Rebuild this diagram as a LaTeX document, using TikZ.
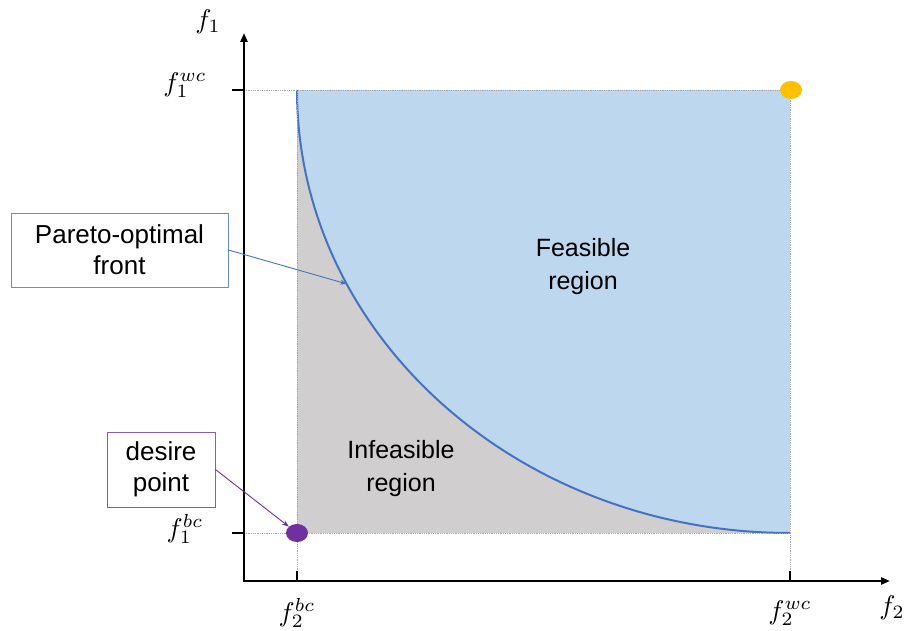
\documentclass[tikz,border=0pt]{standalone}
\usepackage{fontspec}
\setmainfont{Liberation Sans}
\usetikzlibrary{shapes.geometric,arrows.meta}

\definecolor{feasblue}{RGB}{189,215,238}
\definecolor{infgray}{RGB}{208,206,206}
\definecolor{frontblue}{RGB}{68,114,196}
\definecolor{bestpurple}{RGB}{112,48,160}
\definecolor{worstyellow}{RGB}{255,192,0}

\begin{document}
\begin{tikzpicture}[x=1pt, y=1pt,
  axisline/.style={line width=2.4, draw=black, -{Triangle[length=9,width=7]}},
  guideline/.style={densely dotted, draw=black!35, line width=0.8},
  tickline/.style={line width=1.8, draw=black},
  mathlabel/.style={scale=2.7, inner sep=0},
  regiontext/.style={align=center, font=\fontsize{25}{33}\selectfont},
  calloutbox/.style={draw, line width=0.9, fill=white, align=center, inner sep=0, font=\fontsize{26}{31}\selectfont},
  dotnode/.style={shape=ellipse, minimum width=22, minimum height=18, inner sep=0},
]
\useasboundingbox (0,0) rectangle (904,631);

%REGIONS
\fill[infgray] (297,98) rectangle (790,541);
\fill[feasblue] (297,541) arc[start angle=180, end angle=270, x radius=493, y radius=443] -- (790,541) -- cycle;
\draw[frontblue, line width=2] (297,541) arc[start angle=180, end angle=270, x radius=493, y radius=443];

%GUIDES
\draw[guideline] (244,541) -- (790,541);
\draw[guideline] (244,98) -- (790,98);
\draw[guideline] (297,50) -- (297,541);
\draw[guideline] (790,50) -- (790,541);

%AXES
\draw[axisline] (244,50) -- (244,598);
\draw[axisline] (243,50) -- (890,50);
\draw[tickline] (232,541) -- (244,541);
\draw[tickline] (232,98) -- (244,98);
\draw[line width=1.4] (297,50) -- (297,60);
\draw[line width=1.4] (790,50) -- (790,60);

\node[mathlabel] (f1) at (208,609) {$f_1$};
\node[mathlabel] (f1wc) at (185,546) {$f_1^{wc}$};
\node[mathlabel] (f1bc) at (185,102) {$f_1^{bc}$};
\node[mathlabel] (f2bc) at (297,18) {$f_2^{bc}$};
\node[mathlabel] (f2wc) at (790,18) {$f_2^{wc}$};
\node[mathlabel] (f2) at (892,23) {$f_2$};

%POINTS
\node[dotnode, fill=worstyellow] (worst) at (791,541) {};
\node[dotnode, fill=bestpurple] (best) at (297,98) {};
\coordinate (onfront) at (347,347);

%TEXTS
\node[regiontext] (feas) at (583,364) {Feasible\\region};
\node[regiontext] (infeas) at (401,162) {Infeasible\\region};

%CALLOUTS
\node[calloutbox, draw=frontblue!80, minimum width=217, minimum height=74] (pareto) at (119.5,381) {Pareto-optimal\\front};
\node[calloutbox, draw=bestpurple!80, minimum width=108, minimum height=75] (desire) at (161,161.5) {desire\\point};
\draw[frontblue, line width=0.9, -{Stealth[length=7,width=5]}] (pareto.east) -- (onfront);
\draw[bestpurple, line width=0.9, -{Stealth[length=7,width=5]}] (desire.east) -- (best);

\end{tikzpicture}
\end{document}
